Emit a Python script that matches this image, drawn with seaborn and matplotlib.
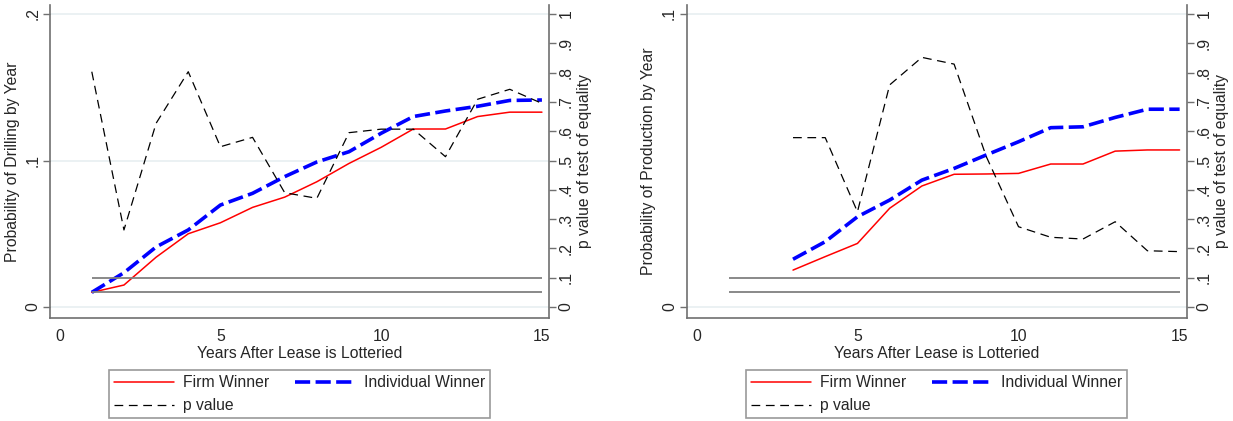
import numpy as np
import pandas as pd
import matplotlib
matplotlib.use("Agg")
import matplotlib.pyplot as plt
import seaborn as sns

sns.set_theme(style="white")
plt.rcParams["font.family"] = ["Liberation Sans", "DejaVu Sans"]

# ---- data -------------------------------------------------------------
years_drill = list(range(1, 16))
drill_firm = [0.010, 0.015, 0.034, 0.050, 0.0575, 0.068, 0.075, 0.0855,
              0.098, 0.109, 0.1215, 0.1215, 0.130, 0.133, 0.133]
drill_indiv = [0.010, 0.0234, 0.041, 0.0526, 0.0696, 0.0776, 0.089, 0.099,
               0.106, 0.1186, 0.130, 0.1338, 0.137, 0.141, 0.1413]
drill_p = [0.803, 0.263, 0.627, 0.803, 0.547, 0.579, 0.390, 0.371,
           0.595, 0.607, 0.607, 0.513, 0.709, 0.743, 0.695]

years_prod = list(range(3, 16))
prod_firm = [0.0126, 0.0172, 0.0217, 0.0337, 0.0413, 0.0453, 0.0454,
             0.0456, 0.0488, 0.0488, 0.0532, 0.0536, 0.0536]
prod_indiv = [0.0163, 0.0223, 0.0308, 0.0365, 0.0433, 0.0473, 0.0519,
              0.0564, 0.0612, 0.0615, 0.0647, 0.0675, 0.0675]
prod_p = [0.578, 0.578, 0.325, 0.758, 0.852, 0.829, 0.513, 0.274,
          0.238, 0.232, 0.291, 0.192, 0.189]

sig_levels = [0.10, 0.05]
ref_span = [1, 15]

x_ticks = [0, 5, 10, 15]
p_ticks = [0, 0.1, 0.2, 0.3, 0.4, 0.5, 0.6, 0.7, 0.8, 0.9, 1.0]
p_ticklabels = ["0", ".1", ".2", ".3", ".4", ".5", ".6", ".7", ".8", ".9", "1"]

panels = [
    dict(years=years_drill, firm=drill_firm, indiv=drill_indiv, p=drill_p,
         ylabel="Probability of Drilling by Year", ytop=0.2,
         yticks=[0, 0.1, 0.2], yticklabels=["0", ".1", ".2"]),
    dict(years=years_prod, firm=prod_firm, indiv=prod_indiv, p=prod_p,
         ylabel="Probability of Production by Year", ytop=0.1,
         yticks=[0, 0.1], yticklabels=["0", ".1"]),
]

# ---- styling ----------------------------------------------------------
W, H = 1233, 421
fig = plt.figure(figsize=(W / 100, H / 100), dpi=100)
axes_px = [(50, 549), (686.7, 1186.7)]
top_px, bot_px = 5, 318
FS = 11.3
spine_c = "#707070"
grid_c = "#e8eff1"

p_lo, p_hi = -0.0375, 1.0307

for (x0, x1), pan in zip(axes_px, panels):
    ax = fig.add_axes([x0 / W, 1 - bot_px / H, (x1 - x0) / W, (bot_px - top_px) / H])
    axr = ax.twinx()

    df = pd.DataFrame({"year": pan["years"], "firm": pan["firm"],
                       "indiv": pan["indiv"], "p": pan["p"]})

    for yv in pan["yticks"]:
        ax.axhline(yv, color=grid_c, lw=1.2, zorder=0)

    sns.lineplot(data=df, x="year", y="firm", ax=ax, color="#ff0000",
                 lw=1.1, label="Firm Winner", legend=False)
    sns.lineplot(data=df, x="year", y="indiv", ax=ax, color="#0000ff",
                 lw=2.6, label="Individual Winner", legend=False)
    ax.lines[-1].set_dashes([4.2, 1.5])

    ax.set_ylim(pan["ytop"] * p_lo, pan["ytop"] * p_hi)
    ax.set_xlim(-0.3, 15.22)

    for s in sig_levels:
        axr.hlines(s, ref_span[0], ref_span[1], color="#808080", lw=1.3)
    sns.lineplot(data=df, x="year", y="p", ax=axr, color="black", lw=0.9,
                 label="p value", legend=False)
    axr.lines[-1].set_dashes([7, 4.5])
    axr.set_ylim(p_lo, p_hi)

    ax.set_xticks(x_ticks)
    ax.set_xticklabels([str(t) for t in x_ticks], fontsize=FS)
    ax.set_yticks(pan["yticks"])
    ax.set_yticklabels(pan["yticklabels"], fontsize=FS, rotation=90, va="center")
    axr.set_yticks(p_ticks)
    axr.set_yticklabels(p_ticklabels, fontsize=FS, rotation=90, va="center")

    ax.set_xlabel("Years After Lease is Lotteried", fontsize=FS, labelpad=1)
    ax.set_ylabel(pan["ylabel"], fontsize=FS, labelpad=4)
    axr.set_ylabel("p value of test of equality", fontsize=FS, labelpad=2)

    for a in (ax, axr):
        a.spines["top"].set_visible(False)
        for sp in a.spines.values():
            sp.set_color(spine_c)
            sp.set_linewidth(1.2)
        a.tick_params(axis="both", which="major", length=5, width=1.0,
                      color=spine_c, direction="out", pad=2)
        a.grid(False)
    ax.tick_params(axis="x", pad=3)
    ax.spines["right"].set_visible(False)
    axr.spines["left"].set_visible(False)
    axr.spines["bottom"].set_visible(False)

    handles = [l for l in ax.get_lines() if l.get_label() in ("Firm Winner", "Individual Winner")]
    handles += [l for l in axr.get_lines() if l.get_label() == "p value"]
    hmap = {h.get_label(): h for h in handles}
    order = ["Firm Winner", "p value", "Individual Winner"]
    leg = ax.legend([hmap[k] for k in order], order, ncol=2, fontsize=FS,
                    loc="upper center", bbox_to_anchor=(0.5, (bot_px - 370) / (bot_px - top_px)),
                    borderaxespad=0,
                    frameon=True, fancybox=False, edgecolor="#808080",
                    handlelength=3.8, handletextpad=0.6, columnspacing=1.6,
                    borderpad=0.32, labelspacing=0.53)
    leg.get_frame().set_linewidth(1.2)

fig.savefig("out.png", dpi=100, facecolor="white")
